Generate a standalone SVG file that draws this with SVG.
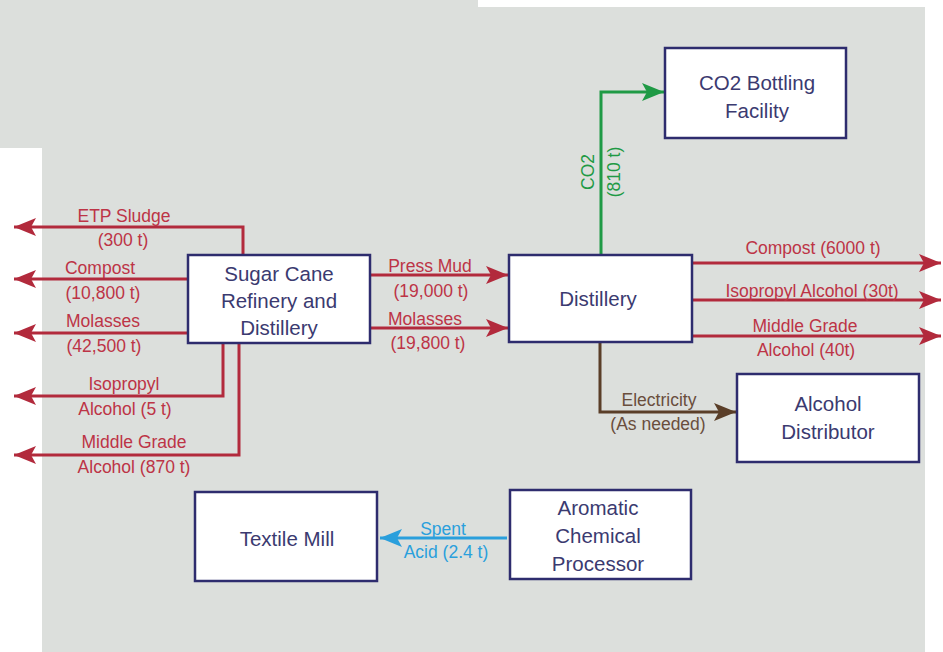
<svg xmlns="http://www.w3.org/2000/svg" width="943" height="652" viewBox="0 0 943 652">
<style>
.box{fill:#ffffff;stroke:#2e2c6e;stroke-width:2.5}
.bt{font-family:"Liberation Sans",Arial,sans-serif;font-size:20.5px;fill:#3b3a70;text-anchor:middle}
.lb{font-family:"Liberation Sans",Arial,sans-serif;font-size:17.5px;text-anchor:middle}
.red{fill:#bd3446}
.grn{fill:#1f9a45}
.brn{fill:#6a4e3c}
.blu{fill:#2a9fdc}
.lr{fill:none;stroke:#b22a3c;stroke-width:3}
.lg{fill:none;stroke:#1f9a45;stroke-width:3}
.lbn{fill:none;stroke:#5a3e28;stroke-width:3}
.lbl{fill:none;stroke:#2a9fdc;stroke-width:3}
</style>
<defs>
<marker id="ar" markerUnits="userSpaceOnUse" markerWidth="24" markerHeight="18" refX="22" refY="9" orient="auto"><path d="M0,0 L22,9 L0,18 L5,9 Z" fill="#b22a3c"/></marker>
<marker id="ag" markerUnits="userSpaceOnUse" markerWidth="24" markerHeight="18" refX="22" refY="9" orient="auto"><path d="M0,0 L22,9 L0,18 L5,9 Z" fill="#1f9a45"/></marker>
<marker id="ab" markerUnits="userSpaceOnUse" markerWidth="24" markerHeight="18" refX="22" refY="9" orient="auto"><path d="M0,0 L22,9 L0,18 L5,9 Z" fill="#5a3e28"/></marker>
<marker id="al" markerUnits="userSpaceOnUse" markerWidth="24" markerHeight="18" refX="22" refY="9" orient="auto"><path d="M0,0 L22,9 L0,18 L5,9 Z" fill="#2a9fdc"/></marker>
</defs>
<rect x="0" y="0" width="943" height="652" fill="#ffffff"/>
<path d="M0,0 H478 V7 H925 V652 H42 V148 H0 Z" fill="#dcdfdc"/>
<g id="connectors">
<polyline class="lr" points="243,255 243,227 14,227" marker-end="url(#ar)"/>
<line class="lr" x1="188" y1="279" x2="14" y2="279" marker-end="url(#ar)"/>
<line class="lr" x1="188" y1="333" x2="14" y2="333" marker-end="url(#ar)"/>
<polyline class="lr" points="223,343 223,396 14,396" marker-end="url(#ar)"/>
<polyline class="lr" points="239,343 239,455 14,455" marker-end="url(#ar)"/>
<line class="lr" x1="370" y1="275" x2="508" y2="275" marker-end="url(#ar)"/>
<line class="lr" x1="370" y1="328" x2="508" y2="328" marker-end="url(#ar)"/>
<line class="lr" x1="692" y1="263" x2="941" y2="263" marker-end="url(#ar)"/>
<line class="lr" x1="692" y1="300" x2="941" y2="300" marker-end="url(#ar)"/>
<line class="lr" x1="692" y1="336" x2="941" y2="336" marker-end="url(#ar)"/>
<polyline class="lg" points="601,255 601,92 664,92" marker-end="url(#ag)"/>
<polyline class="lbn" points="600,342 600,412 736,412" marker-end="url(#ab)"/>
<line class="lbl" x1="507" y1="538" x2="380" y2="538" marker-end="url(#al)"/>
<text class="lb red" x="124" y="222">ETP Sludge</text>
<text class="lb red" x="123" y="246">(300 t)</text>
<text class="lb red" x="100" y="274">Compost</text>
<text class="lb red" x="103" y="299">(10,800 t)</text>
<text class="lb red" x="103" y="327">Molasses</text>
<text class="lb red" x="104" y="352">(42,500 t)</text>
<text class="lb red" x="124" y="390">Isopropyl</text>
<text class="lb red" x="125" y="415">Alcohol (5 t)</text>
<text class="lb red" x="134" y="448">Middle Grade</text>
<text class="lb red" x="134" y="473">Alcohol (870 t)</text>
<text class="lb red" x="430" y="272">Press Mud</text>
<text class="lb red" x="431" y="297">(19,000 t)</text>
<text class="lb red" x="425" y="325">Molasses</text>
<text class="lb red" x="428" y="349">(19,800 t)</text>
<text class="lb red" x="813" y="254">Compost (6000 t)</text>
<text class="lb red" x="812" y="297">Isopropyl Alcohol (30t)</text>
<text class="lb red" x="805" y="332">Middle Grade</text>
<text class="lb red" x="806" y="356">Alcohol (40t)</text>
<text class="lb grn" transform="translate(594,172) rotate(-90)">CO2</text>
<text class="lb grn" transform="translate(620,172) rotate(-90)">(810 t)</text>
<text class="lb brn" x="659" y="406">Electricity</text>
<text class="lb brn" x="658" y="430">(As needed)</text>
<text class="lb blu" x="443" y="535">Spent</text>
<text class="lb blu" x="446" y="558">Acid (2.4 t)</text>
</g>
<g id="sugar">
<rect class="box" x="188" y="255" width="182" height="88"/>
<text class="bt" x="279" y="281">Sugar Cane</text>
<text class="bt" x="279" y="308">Refinery and</text>
<text class="bt" x="279" y="335">Distillery</text>
</g>
<g id="distillery">
<rect class="box" x="509" y="255" width="183" height="87"/>
<text class="bt" x="598" y="306">Distillery</text>
</g>
<g id="co2">
<rect class="box" x="665" y="48" width="181" height="90"/>
<text class="bt" x="757" y="90">CO2 Bottling</text>
<text class="bt" x="757" y="118">Facility</text>
</g>
<g id="alcohol">
<rect class="box" x="737" y="374" width="182" height="88"/>
<text class="bt" x="828" y="411">Alcohol</text>
<text class="bt" x="828" y="439">Distributor</text>
</g>
<g id="textile">
<rect class="box" x="195" y="492" width="182" height="89"/>
<text class="bt" x="287" y="546">Textile Mill</text>
</g>
<g id="aromatic">
<rect class="box" x="510" y="490" width="181" height="89"/>
<text class="bt" x="598" y="515">Aromatic</text>
<text class="bt" x="598" y="543">Chemical</text>
<text class="bt" x="598" y="571">Processor</text>
</g>
</svg>
